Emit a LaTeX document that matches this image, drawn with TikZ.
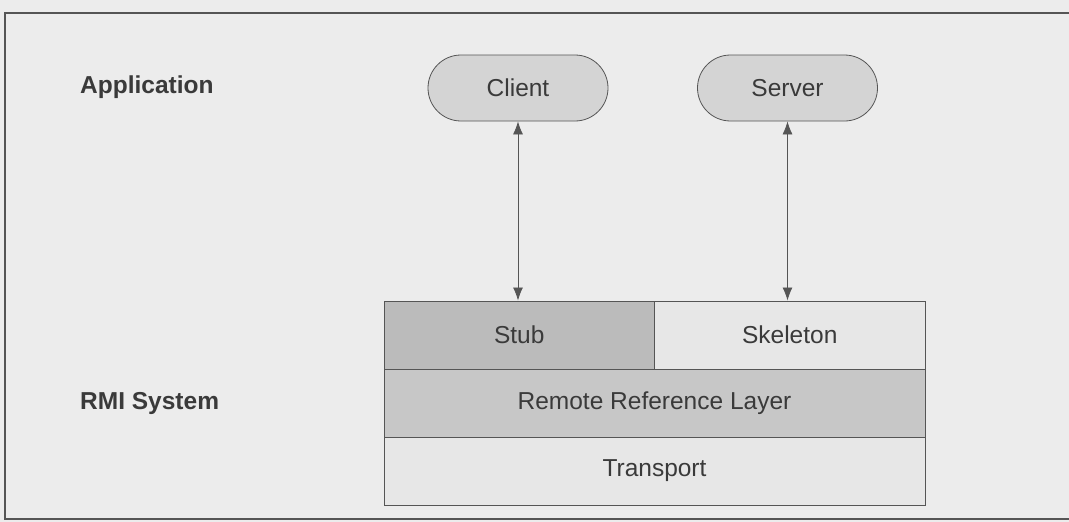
\documentclass[tikz,border=0pt]{standalone}
\usepackage{fontspec}
\setmainfont{Liberation Sans}
\usetikzlibrary{shapes.misc,arrows.meta}

\definecolor{paper}{HTML}{ECECEC}
\definecolor{ink}{HTML}{3A3A3A}
\definecolor{edge}{HTML}{555555}
\definecolor{pillfill}{HTML}{D4D4D4}
\definecolor{darkrow}{HTML}{BBBBBB}
\definecolor{midrow}{HTML}{C7C7C7}
\definecolor{lightrow}{HTML}{E7E7E7}

\tikzset{
  layerlabel/.style={font=\bfseries\fontsize{24.5}{28}\selectfont, text=ink,
    anchor=west, inner sep=0pt},
  pill/.style={rounded rectangle, draw=edge, line width=0.8pt, fill=pillfill,
    minimum width=180pt, minimum height=66pt, inner sep=0pt,
    font=\fontsize{24.5}{28}\selectfont, text=ink},
  cell/.style={rectangle, draw=edge, line width=1pt, inner sep=0pt,
    minimum height=68pt, font=\fontsize{24.5}{28}\selectfont, text=ink},
  link/.style={draw=edge, line width=0.8pt,
    {Latex[length=13pt,width=10pt]}-{Latex[length=13pt,width=10pt]}},
}

\begin{document}
\begin{tikzpicture}[x=1pt,y=-1pt]
  % page and frame
  \fill[paper] (0,0) rectangle (1069,522);
  \useasboundingbox (0,0) rectangle (1069,522);
  \draw[edge, line width=1.3pt] (1069,13) -- (5,13) -- (5,519) -- (1069,519);

  % tier labels
  \node[layerlabel] (applabel) at (80,87) {Application};
  \node[layerlabel] (rmilabel) at (80,403) {RMI System};

  % application objects
  \node[pill] (client) at (518,88) {Client};
  \node[pill] (server) at (787.5,88) {Server};

  % RMI layer stack
  \node[cell, fill=darkrow, minimum width=270.5pt] (stub) at (519.25,335) {Stub};
  \node[cell, fill=lightrow, minimum width=270.5pt] (skeleton) at (789.75,335) {Skeleton};
  \node[cell, fill=midrow, minimum width=541pt] (remoteref) at (654.5,403) {Remote Reference Layer};
  \node[cell, fill=lightrow, minimum width=541pt] (transport) at (654.5,471) {Transport};

  % calls between objects and stub/skeleton
  \draw[link] (client.south) -- (client.south |- stub.north);
  \draw[link] (server.south) -- (server.south |- skeleton.north);
\end{tikzpicture}
\end{document}
